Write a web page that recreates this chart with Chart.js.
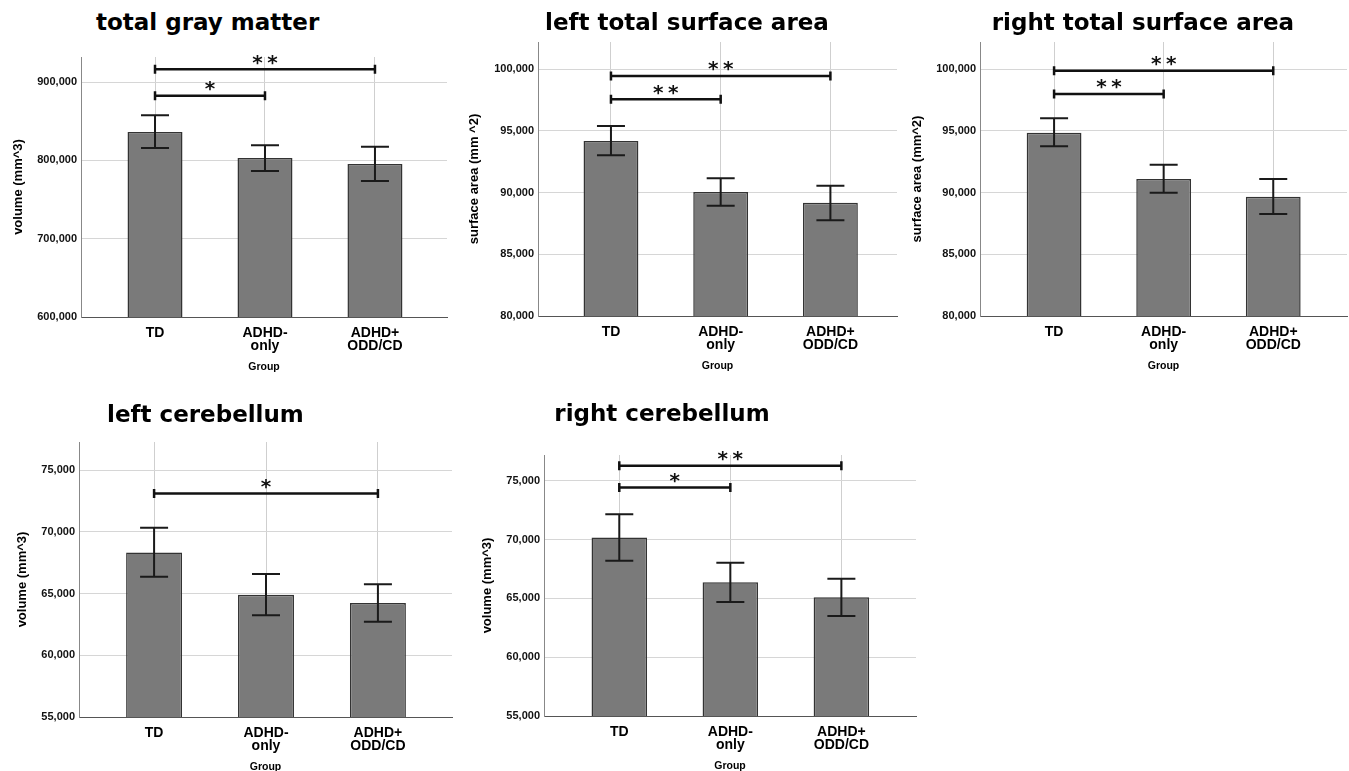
<!DOCTYPE html>
<html><head><meta charset="utf-8">
<script src="https://cdn.jsdelivr.net/npm/chart.js@4.4.1/dist/chart.umd.min.js"></script>
<style>
html,body{margin:0;padding:0;background:#fff}
body{width:1349px;height:771px;overflow:hidden;position:relative}
canvas{position:absolute}
.t{position:absolute;font-family:"DejaVu Sans",Verdana,sans-serif;font-weight:bold;font-size:23px;line-height:23px;white-space:nowrap;color:#000}
</style></head><body>
<script>
// ---------- data ----------
const groups = [['TD'], ['ADHD-', 'only'], ['ADHD+', 'ODD/CD']];
const titles = ['total gray matter', 'left total surface area', 'right total surface area', 'left cerebellum', 'right cerebellum'];
const yTitles = ['volume (mm^3)', 'surface area (mm ^2)', 'surface area (mm^2)', 'volume (mm^3)', 'volume (mm^3)'];
const xTitle = 'Group';
const means   = [[836200, 803000, 795400], [94180, 90050, 89180], [94850, 91100, 89670], [68320, 64890, 64240], [70170, 66360, 65090]];
const errHigh = [[857600, 819300, 817500], [95400, 91160, 90560], [96020, 92260, 91100], [70320, 66590, 65750], [72140, 68030, 66670]];
const errLow  = [[815800, 786400, 773700], [93020, 88940, 87760], [93750, 89990, 88270], [66350, 63240, 62720], [68190, 64690, 63500]];
const yMin  = [600000, 80000, 80000, 55000, 55000];
const yMax  = [932000, 102200, 102200, 77270, 77180];
const yStep = [100000, 5000, 5000, 5000, 5000];
// significance brackets: [fromGroup, toGroup, yValue, label]
const brackets = [
  [[0, 2, 916200, '**'], [0, 1, 882600, '*']],
  [[0, 2, 99450, '**'], [0, 1, 97560, '**']],
  [[0, 2, 99880, '**'], [0, 1, 97990, '**']],
  [[0, 2, 73100, '*']],
  [[0, 2, 76270, '**'], [0, 1, 74410, '*']]
];

// ---------- layout (positions only) ----------
const boxes = [
  {L: 81, T: 57, R: 447, B: 317, xr: [-0.673, 2.655], yt: 5},
  {L: 538, T: 41.7, R: 897, B: 316, xr: [-0.665, 2.607], yt: 4},
  {L: 980, T: 41.7, R: 1346.7, B: 316, xr: [-0.676, 2.673], yt: 5},
  {L: 79, T: 442.3, R: 451.7, B: 717.3, xr: [-0.671, 2.662], yt: 11},
  {L: 544.3, T: 455, R: 916.7, B: 716, xr: [-0.678, 2.672], yt: 11}
];
const titlePos = [[96, 30], [545, 30.7], [991.7, 30.7], [107, 422.7], [554.3, 421.7]];
const YW = 75, PT = 20, XH = 60, PR = 2;

const errorBars = {
  id: 'errorBars',
  afterDatasetsDraw(chart) {
    const i = chart.options.plugins.errorBars.panel;
    const xs = chart.scales.x, ys = chart.scales.y, ctx = chart.ctx;
    ctx.save();
    ctx.strokeStyle = '#1a1a1a';
    ctx.lineWidth = 2;
    for (let k = 0; k < means[i].length; k++) {
      const x = xs.getPixelForValue(k);
      const yh = ys.getPixelForValue(errHigh[i][k]);
      const yl = ys.getPixelForValue(errLow[i][k]);
      ctx.beginPath();
      ctx.moveTo(x, yh); ctx.lineTo(x, yl);
      ctx.moveTo(x - 14, yh); ctx.lineTo(x + 14, yh);
      ctx.moveTo(x - 14, yl); ctx.lineTo(x + 14, yl);
      ctx.stroke();
    }
    ctx.restore();
  },
  afterDraw(chart) {
    const i = chart.options.plugins.errorBars.panel;
    const xs = chart.scales.x, ys = chart.scales.y, ctx = chart.ctx;
    ctx.save();
    ctx.strokeStyle = '#111';
    ctx.fillStyle = '#111';
    for (const [a, b, v, lab] of brackets[i]) {
      const x1 = xs.getPixelForValue(a), x2 = xs.getPixelForValue(b), y = ys.getPixelForValue(v);
      ctx.lineWidth = 2.5;
      ctx.beginPath();
      ctx.moveTo(x1, y); ctx.lineTo(x2, y);
      ctx.stroke();
      ctx.beginPath();
      ctx.moveTo(x1, y - 4.5); ctx.lineTo(x1, y + 4.5);
      ctx.moveTo(x2, y - 4.5); ctx.lineTo(x2, y + 4.5);
      ctx.stroke();
      ctx.font = 'bold 20px "DejaVu Sans"';
      ctx.textAlign = 'center';
      ctx.textBaseline = 'alphabetic';
      const cx = (x1 + x2) / 2, n = lab.length, gap = 15;
      for (let s = 0; s < n; s++) {
        ctx.fillText('*', cx + (s - (n - 1) / 2) * gap, y - 0.5);
      }
    }
    ctx.restore();
  }
};

boxes.forEach((bx, i) => {
  const cv = document.createElement('canvas');
  const w = Math.round(bx.R - bx.L + YW + PR), h = Math.round(bx.B - bx.T + PT + XH);
  cv.width = w; cv.height = h;
  cv.style.left = (bx.L - YW) + 'px';
  cv.style.top = (bx.T - PT) + 'px';
  cv.style.width = w + 'px'; cv.style.height = h + 'px';
  document.body.appendChild(cv);

  const t = document.createElement('div');
  t.className = 't';
  t.textContent = titles[i];
  t.style.left = titlePos[i][0] + 'px';
  t.style.top = (titlePos[i][1] - 19.4) + 'px';
  document.body.appendChild(t);

  new Chart(cv, {
    type: 'bar',
    data: {
      datasets: [{
        data: means[i].map((v, k) => ({x: k, y: v})),
        backgroundColor: '#7a7a7a',
        borderColor: '#333333',
        borderWidth: 1.5,
        borderSkipped: false,
        barPercentage: 0.5,
        categoryPercentage: 1
      }]
    },
    options: {
      responsive: false,
      animation: false,
      devicePixelRatio: 1,
      layout: {padding: {top: PT, right: PR, left: 0, bottom: 0}},
      plugins: {legend: {display: false}, tooltip: {enabled: false}, errorBars: {panel: i}},
      scales: {
        x: {
          type: 'linear',
          offset: false,
          min: bx.xr[0], max: bx.xr[1],
          afterBuildTicks: s => { s.ticks = groups.map((g, k) => ({value: k})); },
          afterFit: s => { s.height = XH; },
          grid: {color: '#cfcfcf', lineWidth: 1, drawTicks: false, offset: false},
          border: {color: '#555', width: 1},
          ticks: {
            callback: v => groups[v],
            color: '#000',
            font: {family: '"Liberation Sans", Arial, sans-serif', weight: 'bold', size: 14, lineHeight: 0.98},
            padding: 9, maxRotation: 0, autoSkip: false
          },
          title: {display: true, text: xTitle, color: '#000',
            font: {family: '"Liberation Sans", Arial, sans-serif', weight: 'bold', size: 10.5},
            padding: {top: 4, bottom: 4}}
        },
        y: {
          min: yMin[i], max: yMax[i],
          afterBuildTicks: s => {
            const tk = [];
            for (let v = yMin[i]; v <= yMax[i]; v += yStep[i]) tk.push({value: v});
            s.ticks = tk;
          },
          afterFit: s => { s.width = YW; },
          grid: {color: '#d6d6d6', lineWidth: 1, drawTicks: false},
          border: {color: '#888', width: 1},
          ticks: {
            callback: v => v.toLocaleString('en-US'),
            color: '#111',
            font: {family: '"Liberation Sans", Arial, sans-serif', weight: 'bold', size: 11},
            padding: 4
          },
          title: {display: true, text: yTitles[i], color: '#000',
            font: {family: '"Liberation Sans", Arial, sans-serif', weight: 'bold', size: 13},
            padding: {top: bx.yt, bottom: 4}}
        }
      }
    },
    plugins: [errorBars]
  });
});
</script>
</body></html>
